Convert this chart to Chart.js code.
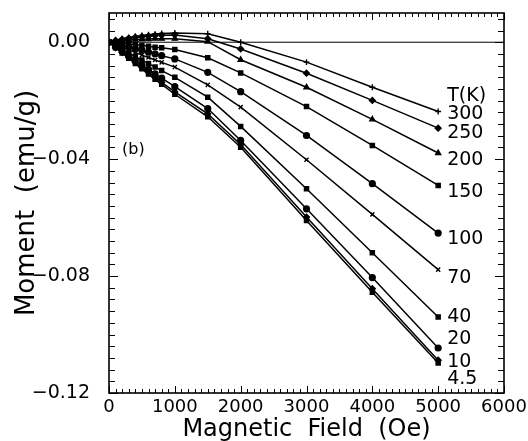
<!DOCTYPE html>
<html>
<head>
<meta charset="utf-8">
<script src="https://cdn.jsdelivr.net/npm/chart.js@4"></script>
<style>
  html, body { margin: 0; padding: 0; background: #fff; }
</style>
</head>
<body>
<canvas id="graphique-moment" width="528" height="441"></canvas>
<script>
// champ magnetique (Oe)
const champs = [0, 100, 200, 300, 400, 500, 600, 700, 800, 1000, 1500, 2000, 3000, 4000, 5000];

// moment (emu/g) pour chaque temperature
const m300 = [0, 0.0007, 0.0012, 0.0016, 0.0020, 0.0023, 0.0026, 0.0028, 0.0030, 0.0032, 0.0029, 0.0000, -0.0068, -0.0154, -0.0237];
const m250 = [0, 0.0006, 0.0010, 0.0014, 0.0017, 0.0019, 0.0021, 0.0023, 0.0024, 0.0025, 0.0012, -0.0023, -0.0106, -0.0199, -0.0294];
const m200 = [0, 0.0004, 0.0006, 0.0008, 0.0009, 0.0010, 0.0011, 0.0012, 0.0012, 0.0012, 0.0002, -0.0060, -0.0154, -0.0264, -0.0379];
const m150 = [0, -0.0001, -0.0003, -0.0006, -0.0008, -0.0011, -0.0014, -0.0017, -0.0019, -0.0025, -0.0053, -0.0105, -0.0220, -0.0353, -0.0490];
const m100 = [0, -0.0005, -0.0011, -0.0017, -0.0022, -0.0028, -0.0034, -0.0040, -0.0046, -0.0057, -0.0103, -0.0169, -0.0319, -0.0484, -0.0653];
const m70 = [0, -0.0009, -0.0017, -0.0026, -0.0035, -0.0044, -0.0052, -0.0061, -0.0069, -0.0085, -0.0146, -0.0222, -0.0402, -0.0589, -0.0778];
const m40 = [0, -0.0012, -0.0025, -0.0037, -0.0049, -0.0061, -0.0073, -0.0085, -0.0097, -0.0120, -0.0188, -0.0288, -0.0501, -0.0720, -0.0940];
const m20 = [0, -0.0016, -0.0031, -0.0047, -0.0062, -0.0078, -0.0093, -0.0108, -0.0123, -0.0152, -0.0227, -0.0336, -0.0570, -0.0805, -0.1046];
const m10 = [0, -0.0018, -0.0035, -0.0052, -0.0069, -0.0086, -0.0103, -0.0120, -0.0137, -0.0170, -0.0245, -0.0350, -0.0598, -0.0843, -0.1088];
const m4_5 = [0, -0.0019, -0.0037, -0.0055, -0.0073, -0.0091, -0.0109, -0.0127, -0.0144, -0.0178, -0.0255, -0.0359, -0.0610, -0.0855, -0.1097];

const temperatures = ["300", "250", "200", "150", "100", "70", "40", "20", "10", "4.5"];
const series = [m300, m250, m200, m150, m100, m70, m40, m20, m10, m4_5];

// graduations
const xTicks = [0, 1000, 2000, 3000, 4000, 5000, 6000];
const yTicks = [-0.12, -0.08, -0.04, 0.00];

// styles (hors donnees)
const marqueurs = ["cross", "rectRot", "triangle", "rect", "circle", "crossRot", "rect", "circle", "rectRot", "rect"];
const decalEtiquette = [3, 5, 7, 7, 6, 8, 0, -9, 2, 16];
const police = '"DejaVu Sans", sans-serif';

const datasets = series.map((serie, i) => ({
  label: temperatures[i] + " K",
  data: champs.map((h, j) => ({ x: h, y: serie[j] })),
  borderColor: "#000",
  backgroundColor: "#000",
  borderWidth: 1.5,
  pointStyle: marqueurs[i],
  pointRadius: 2.9,
  pointBorderWidth: 1.4,
  showLine: true,
}));

// ligne horizontale du zero
datasets.push({
  label: "zero",
  data: [{ x: xTicks[0], y: 0 }, { x: xTicks[xTicks.length - 1], y: 0 }],
  borderColor: "#000",
  borderWidth: 1,
  pointRadius: 0,
  showLine: true,
});

// cadre, petites graduations vers l'interieur, etiquettes des courbes
const cadre = {
  id: "cadre",
  afterDatasetsDraw(chart) {
    const { ctx, chartArea: a, scales: { x, y } } = chart;
    ctx.save();
    ctx.strokeStyle = "#000";
    ctx.lineWidth = 1;
    ctx.beginPath();
    for (let k = 0; k <= 60; k++) {
      const px = Math.round(x.getPixelForValue(k * 100)) + 0.5;
      const l = k % 10 === 0 ? 7 : 4;
      ctx.moveTo(px, a.bottom); ctx.lineTo(px, a.bottom - l);
      ctx.moveTo(px, a.top); ctx.lineTo(px, a.top + l);
    }
    for (let k = -30; k <= 2; k++) {
      const py = Math.round(y.getPixelForValue(k * 0.004)) + 0.5;
      const l = k % 10 === 0 ? 9 : 6;
      ctx.moveTo(a.left, py); ctx.lineTo(a.left + l, py);
      ctx.moveTo(a.right, py); ctx.lineTo(a.right - l, py);
    }
    ctx.stroke();
    ctx.lineWidth = 1.6;
    ctx.strokeRect(a.left, a.top, a.right - a.left, a.bottom - a.top);

    ctx.fillStyle = "#000";
    ctx.font = "19px " + police;
    ctx.textAlign = "left";
    ctx.textBaseline = "middle";
    const xe = x.getPixelForValue(champs[champs.length - 1]) + 9;
    series.forEach((serie, i) => {
      const ye = y.getPixelForValue(serie[serie.length - 1]) + decalEtiquette[i];
      ctx.fillText(temperatures[i], xe, ye);
    });
    ctx.fillText("T(K)", xe, y.getPixelForValue(m300[m300.length - 1]) - 15);
    ctx.font = "16px " + police;
    ctx.fillText("(b)", a.left + 13, y.getPixelForValue(-0.0368));
    ctx.restore();
  }
};

const config = {
  type: "scatter",
  data: { datasets: datasets },
  options: {
    responsive: false,
    animation: false,
    devicePixelRatio: 1,
    layout: { padding: { top: 13, right: 24, left: 0, bottom: 0 } },
    plugins: { legend: { display: false }, tooltip: { enabled: false } },
    scales: {
      x: {
        type: "linear",
        min: 0,
        max: 6000,
        grid: { display: false, drawTicks: false },
        border: { display: false },
        afterFit: (scale) => { scale.height = 48; scale.paddingLeft = 0; scale.paddingRight = 0; },
        afterBuildTicks: (scale) => { scale.ticks = xTicks.map(v => ({ value: v })); },
        ticks: {
          color: "#000",
          font: { family: police, size: 18 },
          padding: 4,
          maxRotation: 0,
          callback: (v) => String(v),
        },
        title: {
          display: true,
          text: "Magnetic  Field  (Oe)",
          color: "#000",
          font: { family: police, size: 24, lineHeight: 1 },
          padding: { top: 0, bottom: -1 },
        },
      },
      y: {
        type: "linear",
        min: -0.12,
        max: 0.01,
        grid: { display: false, drawTicks: false },
        border: { display: false },
        afterFit: (scale) => { scale.width = 109; scale.paddingTop = 0; scale.paddingBottom = 0; },
        afterBuildTicks: (scale) => { scale.ticks = yTicks.map(v => ({ value: v })); },
        ticks: {
          color: "#000",
          font: { family: police, size: 19 },
          padding: 19,
          callback: (v) => (v < 0 ? "\u2212" : "") + Math.abs(v).toFixed(2),
        },
        title: {
          display: true,
          text: "Moment  (emu/g)",
          color: "#000",
          font: { family: police, size: 26, lineHeight: 1 },
          padding: { top: 14, bottom: 0 },
        },
      },
    },
  },
  plugins: [cadre],
};

const graphiqueMoment = new Chart(document.querySelector("#graphique-moment"), config);
</script>
</body>
</html>
